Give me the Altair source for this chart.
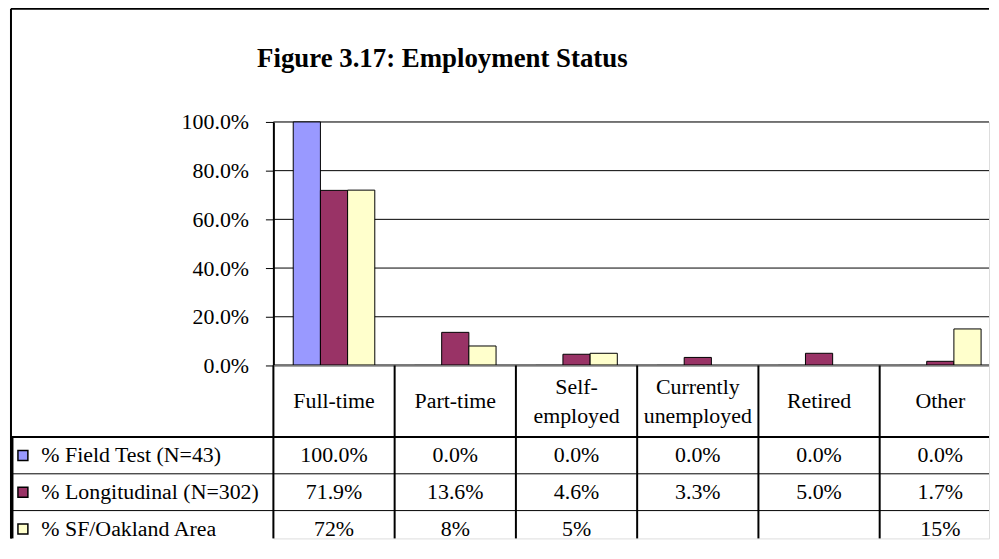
import altair as alt
import pandas as pd

# ---------------- data ----------------
categories = ["Full-time", "Part-time", "Self-employed", "Currently unemployed", "Retired", "Other"]
header_labels = ["Full-time", "Part-time", "Self-\nemployed", "Currently\nunemployed", "Retired", "Other"]
series = ["% Field Test (N=43)", "% Longitudinal (N=302)", "% SF/Oakland Area"]
field_test = [100.0, 0.0, 0.0, 0.0, 0.0, 0.0]
longitudinal = [71.9, 13.6, 4.6, 3.3, 5.0, 1.7]
sf_oakland = [72, 8, 5, None, None, 15]
decimals = [1, 1, 0]
colors = ["#9999FF", "#993366", "#FFFFCC"]
y_ticks = [0, 20, 40, 60, 80, 100]
title_text = "Figure 3.17: Employment Status"

FONT = "Liberation Serif"
W = 720             # visible width of plot / table columns
COL_RANGE = 732     # full extent of the six columns (the last runs past the page edge)
H_BAR = 245
H_HEAD = 72
H_BODY = 102        # visible part of the table body
ROW_RANGE = 111     # full extent of the three body rows
LEFT = 264          # width of the row-label column of the table
FRAME_TOP = 114     # distance of the outer frame above the plot area

rows = []
for s, vals, d in zip(series, [field_test, longitudinal, sf_oakland], decimals):
    for c, v in zip(categories, vals):
        rows.append({
            "category": c,
            "series": s,
            "value": v,
            "label": "" if v is None else f"{v:.{d}f}%",
        })
df = pd.DataFrame(rows)
bar_df = df.dropna(subset=["value"])
head_df = pd.DataFrame({"category": categories, "header": header_labels})
cat_df = pd.DataFrame({"category": categories})
key_df = pd.DataFrame({"series": series})
tick_df = pd.DataFrame({"tick": y_ticks})
one_df = pd.DataFrame({"k": [0]})

x_scale = alt.Scale(domain=categories, range=[0, COL_RANGE], paddingInner=0, paddingOuter=0)
y_bar_scale = alt.Scale(domain=[0, 100], nice=False)
color_enc = alt.Color("series:N", sort=series,
                      scale=alt.Scale(domain=series, range=colors), legend=None)

y_bar_axis = alt.Axis(title=None, values=y_ticks,
                      labelExpr="format(datum.value, '.1f') + '%'",
                      labelFont=FONT, labelFontSize=22, labelColor="black",
                      labelPadding=17, tickSize=8, tickColor="black", tickWidth=1,
                      domainColor="black", domainWidth=2, grid=False)

# ---------------- bar chart ----------------
gridlines = alt.Chart(tick_df).mark_rule(color="black", strokeWidth=1).encode(
    y=alt.Y("tick:Q", scale=y_bar_scale, axis=y_bar_axis),
    x=alt.value(0), x2=alt.value(W),
)
zero_line = alt.Chart(one_df).mark_rule(color="black", strokeWidth=2).encode(
    y=alt.datum(0, scale=y_bar_scale, axis=y_bar_axis),
    x=alt.value(0), x2=alt.value(W),
)
bars = alt.Chart(bar_df).mark_bar(stroke="black", strokeWidth=1).encode(
    x=alt.X("category:N", sort=categories, scale=x_scale, axis=None),
    xOffset=alt.XOffset("series:N", sort=series,
                        scale=alt.Scale(domain=series, paddingInner=0, paddingOuter=0.73)),
    y=alt.Y("value:Q", scale=y_bar_scale, axis=y_bar_axis),
    color=color_enc,
)
bar_chart = alt.layer(gridlines, bars, zero_line).properties(
    width=W, height=H_BAR,
    title=alt.TitleParams(title_text, font=FONT, fontSize=27, fontWeight="bold",
                          color="black", anchor="middle", dx=-190, offset=17,
                          baseline="alphabetic"),
)

# ---------------- table header ----------------
x_head = alt.X("category:N", sort=categories, scale=x_scale, axis=None)
head_lines = alt.Chart(cat_df).mark_rule(color="black", strokeWidth=2).encode(
    x=alt.X("category:N", sort=categories, scale=x_scale, axis=None, bandPosition=0),
    y=alt.value(0), y2=alt.value(H_HEAD),
)
head_one = alt.Chart(head_df).transform_filter(
    "indexof(datum.header, '\\n') < 0"
).mark_text(font=FONT, fontSize=22, color="black", baseline="middle").encode(
    x=x_head, text="header:N"
)
head_two = alt.Chart(head_df).transform_filter(
    "indexof(datum.header, '\\n') >= 0"
).mark_text(font=FONT, fontSize=22, color="black", baseline="middle",
            lineBreak="\n", lineHeight=29, dy=-14.5).encode(
    x=x_head, text="header:N"
)
header = alt.layer(head_lines, head_one, head_two).properties(width=W, height=H_HEAD)

# ---------------- table body ----------------
y_body_scale = alt.Scale(domain=series, range=[0, ROW_RANGE], paddingInner=0, paddingOuter=0)
y_body_axis = alt.Axis(title=None, orient="left", labelAlign="left",
                       labelBaseline="middle", labelFont=FONT, labelFontSize=22,
                       labelColor="black", labelPadding=-30, labelLimit=0,
                       tickSize=LEFT, tickOpacity=0, domain=False, grid=False)


def y_body(band_pos=None):
    if band_pos is None:
        return alt.Y("series:N", sort=series, scale=y_body_scale, axis=y_body_axis)
    return alt.Y("series:N", sort=series, scale=y_body_scale, axis=y_body_axis,
                 bandPosition=band_pos)


x_body = alt.X("category:N", sort=categories, scale=x_scale, axis=None)

row_lines = alt.Chart(key_df).mark_rule(color="black", strokeWidth=1).encode(
    y=y_body(0), x=alt.value(-LEFT), x2=alt.value(W)
)
row_top_line = alt.Chart(key_df).transform_filter(
    alt.datum.series == series[0]
).mark_rule(color="black", strokeWidth=2).encode(
    y=y_body(0), x=alt.value(-LEFT), x2=alt.value(W)
)
col_lines = alt.Chart(cat_df).mark_rule(color="black", strokeWidth=2).encode(
    x=alt.X("category:N", sort=categories, scale=x_scale, axis=None, bandPosition=0),
    y=alt.value(0), y2=alt.value(H_BODY),
)
cell_text = alt.Chart(df).mark_text(font=FONT, fontSize=22, color="black").encode(
    x=x_body, y=y_body(), text="label:N"
)
keys = alt.Chart(key_df).mark_point(
    shape="square", filled=True, size=100, stroke="black", strokeWidth=1.5, opacity=1
).encode(x=alt.value(-252), y=y_body(), color=color_enc)

frame_y = -(H_BAR + H_HEAD + FRAME_TOP)
frame_top = alt.Chart(one_df).mark_rule(color="black", strokeWidth=2).encode(
    x=alt.value(-LEFT), x2=alt.value(W), y=alt.value(frame_y)
)
frame_left = alt.Chart(one_df).mark_rule(color="black", strokeWidth=2).encode(
    x=alt.value(-LEFT), y=alt.value(frame_y), y2=alt.value(H_BODY)
)
table_left = alt.Chart(one_df).mark_rule(color="black", strokeWidth=3).encode(
    x=alt.value(-LEFT + 1), y=alt.value(0), y2=alt.value(H_BODY)
)

body = alt.layer(row_lines, row_top_line, col_lines, cell_text, keys,
                 frame_top, frame_left, table_left).properties(width=W, height=H_BODY)

chart = alt.vconcat(bar_chart, header, body, spacing=0, bounds="flush").properties(
    padding={"left": 1, "top": -3, "right": 0, "bottom": -2}
).configure_view(stroke="transparent").configure(background="white", font=FONT)

chart.save("out.html", embed_options={"renderer": "svg", "actions": False})
